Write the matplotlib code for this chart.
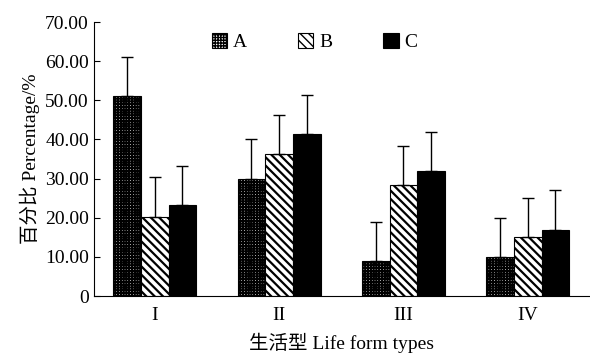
import numpy as np
import matplotlib.pyplot as plt

plt.rcParams['font.family'] = ['Liberation Serif', 'Noto Sans CJK SC']

# data
groups = ["I", "II", "III", "IV"]
series = ["A", "B", "C"]
a_vals = [51.0, 30.0, 9.0, 10.0]
b_vals = [20.3, 36.3, 28.3, 15.0]
c_vals = [23.3, 41.3, 32.0, 17.0]
a_err = [10.0, 10.0, 10.0, 10.0]
b_err = [10.0, 10.0, 10.0, 10.0]
c_err = [10.0, 10.0, 10.0, 10.0]

fig = plt.figure(figsize=(5.9, 3.55), dpi=100)
ax = fig.add_axes([0.159, 0.166, 0.841, 0.772])

x = np.arange(len(groups))
w = 0.222
# (face colour, hatch, hatch line width)
styles = [("white", "++++++", 1.4), ("white", "\\\\\\\\", 1.6), ("black", None, 0.8)]
vals = [a_vals, b_vals, c_vals]
errs = [a_err, b_err, c_err]

for i, (name, v, e) in enumerate(zip(series, vals, errs)):
    fc, hatch, hlw = styles[i]
    with plt.rc_context({"hatch.linewidth": hlw}):
        ax.bar(x + (i - 1) * w, v, w, color=fc, edgecolor="black", hatch=hatch,
               linewidth=0.8, label=name,
               yerr=[np.zeros(len(e)), e], capsize=4,
               error_kw=dict(ecolor="black", elinewidth=1, capthick=1))

ax.set_xlim(-0.49, 3.5)
ax.set_ylim(0, 70)
ax.set_yticks(np.arange(0, 71, 10))
ax.set_yticklabels(["0"] + ["%.2f" % t for t in np.arange(10, 71, 10)])
ax.set_xticks(x)
ax.set_xticklabels(groups)
ax.tick_params(axis="y", direction="in", length=4, labelsize=14)
ax.tick_params(axis="x", length=0, labelsize=14, pad=8)
ax.spines["top"].set_visible(False)
ax.spines["right"].set_visible(False)

ax.set_ylabel("百分比 Percentage/%", fontsize=14)
ax.set_xlabel("生活型 Life form types", fontsize=14, labelpad=6)

ax.legend(loc="upper center", bbox_to_anchor=(0.445, 1.025), ncol=3, frameon=False,
          fontsize=14, handlelength=0.8, handleheight=0.8, handletextpad=0.3,
          columnspacing=2.6)

fig.savefig("out.png")
